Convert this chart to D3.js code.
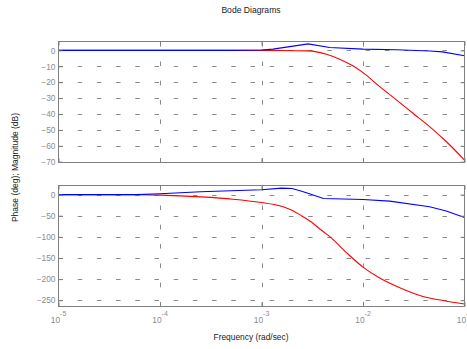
<!DOCTYPE html>
<html><head><meta charset="utf-8">
<script src="https://cdn.jsdelivr.net/npm/d3@7"></script>
<style>body{margin:0;background:#fff}svg{display:block;font-family:"Liberation Sans",Arial,sans-serif}</style>
</head><body><svg id="c" width="467" height="349"></svg>
<script>
// ---- data ----
const title = "Bode Diagrams";
const xLabel = "Frequency (rad/sec)";
const yLabel = "Phase (deg); Magnitude (dB)";
const freqDecades = [-5, -4, -3, -2, -1];
const magTicks = [0, -10, -20, -30, -40, -50, -60, -70];
const phaseTicks = [0, -50, -100, -150, -200, -250];

// log10(frequency) samples and values
const redMagLogF = [-5, -3, -2.8, -2.54, -2.36, -2.23, -2.10, -2.0, -1.835, -1.671, -1.508, -1.344, -1.18, -1.0];
const redMagDb   = [0, 0, -0.05, -0.3, -2.4, -5.5, -9.7, -14, -22.8, -31.1, -39.5, -47.9, -57.3, -69];
const blueMagLogF = [-5, -3.3, -3.0, -2.887, -2.54, -2.327, -2.0, -1.671, -1.344, -1.216, -1.0];
const blueMagDb   = [0, 0, 0.3, 0.8, 4.1, 1.8, 0.8, 0.4, -0.4, -0.9, -3.4];
const redPhLogF = [-5, -4.5, -4.19, -4.0, -3.6, -3.28, -3.0, -2.82, -2.70, -2.62, -2.52, -2.39, -2.33, -2.16, -2.0, -1.835, -1.671, -1.41, -1.2, -1.0];
const redPhDeg  = [0, 0, -0.3, -1.2, -5.4, -10.9, -18.9, -26.5, -37, -48, -63, -88, -99, -138, -171.6, -197.6, -217, -241, -251, -259];
const bluePhLogF = [-5, -4.23, -4.0, -3.6, -3.0, -2.80, -2.70, -2.62, -2.52, -2.39, -2.0, -1.737, -1.344, -1.18, -1.0];
const bluePhDeg  = [0, 0, 1.9, 6.6, 11.4, 15.4, 14.4, 9, 1.2, -9.2, -11.6, -15.4, -28.9, -39, -54];

// ---- layout ----
const L = 58.5, R = 464.5;
const panels = [
  {top: 41.5, bottom: 162.5, domain: [5.6, -70.5], ticks: magTicks,
   series: [{f: redMagLogF, v: redMagDb, c: "#ff0000", curve: d3.curveMonotoneX},
            {f: blueMagLogF, v: blueMagDb, c: "#0000ff", curve: d3.curveLinear}]},
  {top: 185.5, bottom: 306.5, domain: [21.5, -264.8], ticks: phaseTicks,
   series: [{f: redPhLogF, v: redPhDeg, c: "#ff0000", curve: d3.curveMonotoneX},
            {f: bluePhLogF, v: bluePhDeg, c: "#0000ff", curve: d3.curveLinear}]}
];
const fs = 8.4;
const svg = d3.select("#c");
const x = d3.scaleLog().domain([1e-5, 1e-1]).range([L, R]);
const axisCol = "#7f7f7f", labCol = "#8c8c8c", gridCol = "#8a8a8a";

panels.forEach((p, i) => {
  const y = d3.scaleLinear().domain(p.domain).range([p.top, p.bottom]);
  const g = svg.append("g");
  // grid horizontal
  g.selectAll(".hg").data(p.ticks).join("line")
    .attr("x1", L).attr("x2", R).attr("y1", d => Math.round(y(d)) + 0.5).attr("y2", d => Math.round(y(d)) + 0.5)
    .attr("stroke", gridCol).attr("stroke-dasharray", "4.5,14.7");
  // grid vertical (drawn bottom to top)
  g.selectAll(".vg").data(freqDecades.slice(1, -1)).join("line")
    .attr("x1", d => Math.round(x(10 ** d)) + 0.5).attr("x2", d => Math.round(x(10 ** d)) + 0.5)
    .attr("y1", p.bottom).attr("y2", p.top)
    .attr("stroke", gridCol).attr("stroke-dasharray", "4.5,14.8");
  // curves
  p.series.forEach(s => {
    const pts = s.f.map((f, k) => [f, s.v[k]]);
    g.append("path").datum(pts)
      .attr("d", d3.line().x(d => x(10 ** d[0])).y(d => y(d[1])).curve(s.curve))
      .attr("fill", "none").attr("stroke", s.c).attr("stroke-width", 1.1);
  });
  // axes (ticks inward)
  const ya = g.append("g").attr("transform", `translate(${L},0)`)
    .call(d3.axisLeft(y).tickValues(p.ticks).tickSize(-4).tickPadding(3).tickFormat(d3.format("d")));
  const yr = g.append("g").attr("transform", `translate(${R},0)`)
    .call(d3.axisRight(y).tickValues(p.ticks).tickSize(-4).tickFormat(""));
  const xt = g.append("g").attr("transform", `translate(0,${p.top})`)
    .call(d3.axisTop(x).tickValues(freqDecades.map(d => 10 ** d)).tickSize(-4).tickFormat(""));
  const xb = g.append("g").attr("transform", `translate(0,${p.bottom})`)
    .call(d3.axisBottom(x).tickValues(freqDecades.map(d => 10 ** d)).tickSize(-4).tickFormat(""));
  [ya, yr, xt, xb].forEach(a => {
    a.select(".domain").remove();
    a.selectAll("line").attr("stroke", axisCol);
  });
  ya.selectAll("text").attr("fill", labCol).style("font-size", fs + "px")
    .style("font-family", '"Liberation Sans",Arial,sans-serif');
  // border
  g.append("rect").attr("x", L).attr("y", p.top).attr("width", R - L).attr("height", p.bottom - p.top)
    .attr("fill", "none").attr("stroke", axisCol);
});

// x tick labels with exponents
const xl = svg.append("g");
freqDecades.forEach(d => {
  const t = xl.append("text").attr("x", x(10 ** d)).attr("y", 323)
    .attr("text-anchor", "middle").attr("fill", labCol).style("font-size", fs + "px");
  t.append("tspan").text("10");
  t.append("tspan").attr("dy", -7.5).style("font-size", "7px").text(String(d));
});

svg.append("text").attr("x", 251).attr("y", 13).attr("text-anchor", "middle")
  .attr("fill", "#222").style("font-size", "8.6px").text(title);
svg.append("text").attr("x", 251).attr("y", 340).attr("text-anchor", "middle")
  .attr("fill", "#222").style("font-size", fs + "px").text(xLabel);
svg.append("text").attr("transform", "translate(18,167.5) rotate(-90)").attr("text-anchor", "middle")
  .attr("fill", "#222").style("font-size", "8.5px").text(yLabel);
</script></body></html>
